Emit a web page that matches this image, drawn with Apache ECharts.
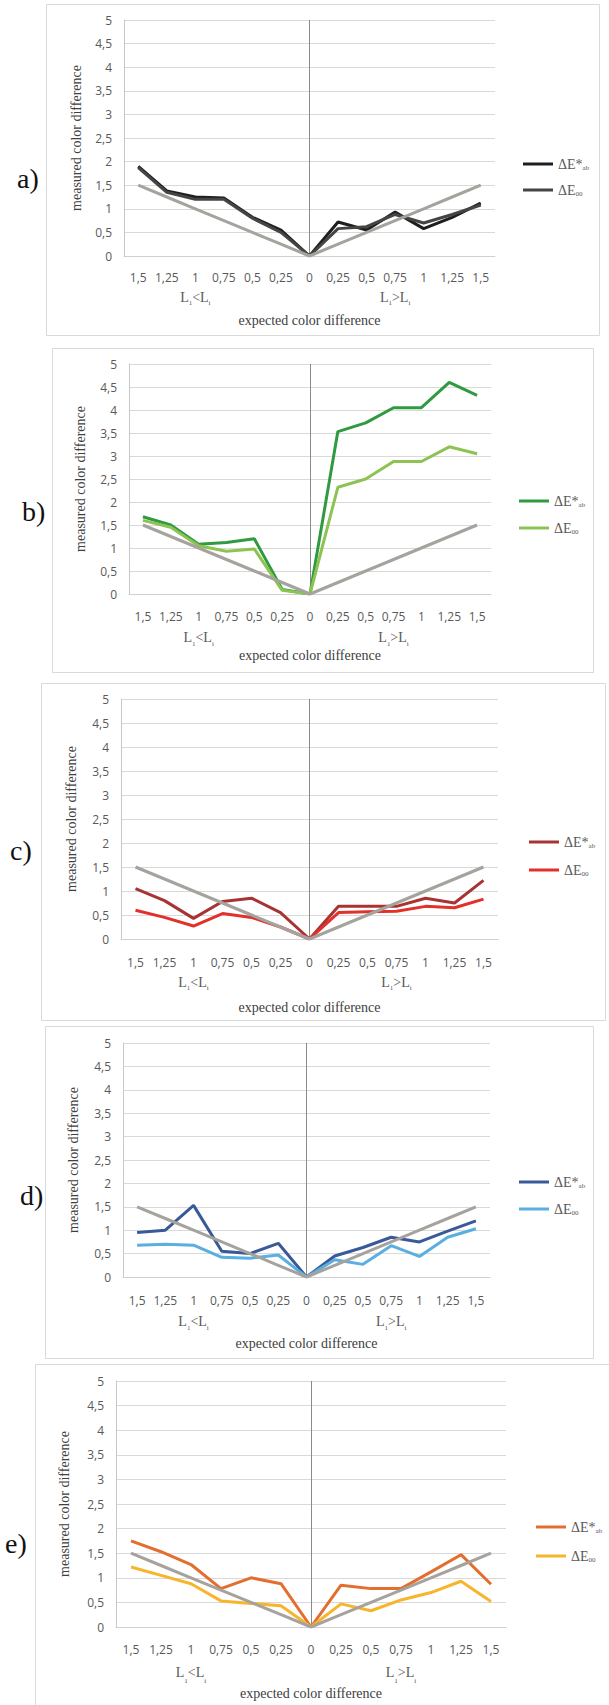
<!DOCTYPE html>
<html>
<head>
<meta charset="utf-8">
<script src="https://cdn.jsdelivr.net/npm/echarts@6/dist/echarts.min.js"></script>
<style>
html,body{margin:0;padding:0;background:#ffffff;}
#chart{width:609px;height:1705px;}
</style>
</head>
<body>
<div id="chart"></div>
<script>
// ---------- data ----------
const categories = ['1,5','1,25','1','0,75','0,5','0,25','0','0,25','0,5','0,75','1','1,25','1,5'];
const expected   = [1.5, 1.25, 1, 0.75, 0.5, 0.25, 0, 0.25, 0.5, 0.75, 1, 1.25, 1.5];
const yMin = 0, yMax = 5, yStep = 0.5;
const panelLabels = ['a)', 'b)', 'c)', 'd)', 'e)'];
const yTitle = 'measured color difference';
const xTitle = 'expected color difference';
const sideLeft  = ['L', '1', '<L', 'i'];   // L1<Li under index 2
const sideRight = ['L', '1', '>L', 'i'];   // L1>Li under index 9
const legendAb = ['ΔE*', 'ab'];
const legend00 = ['ΔE', '00'];

const a_ab = [1.90, 1.38, 1.25, 1.23, 0.82, 0.55, 0, 0.72, 0.55, 0.93, 0.58, 0.82, 1.12];
const a_00 = [1.87, 1.35, 1.20, 1.20, 0.80, 0.50, 0, 0.58, 0.62, 0.88, 0.70, 0.88, 1.08];

const b_ab = [1.68, 1.50, 1.08, 1.12, 1.20, 0.10, 0, 3.53, 3.72, 4.05, 4.05, 4.60, 4.32];
const b_00 = [1.60, 1.45, 1.05, 0.93, 0.98, 0.08, 0, 2.32, 2.50, 2.88, 2.88, 3.20, 3.05];

const c_ab = [1.05, 0.80, 0.43, 0.78, 0.85, 0.55, 0, 0.68, 0.68, 0.68, 0.85, 0.75, 1.22];
const c_00 = [0.60, 0.45, 0.27, 0.53, 0.45, 0.25, 0, 0.55, 0.57, 0.58, 0.68, 0.65, 0.83];

const d_ab = [0.95, 1.00, 1.53, 0.55, 0.50, 0.72, 0, 0.45, 0.63, 0.85, 0.75, 0.98, 1.20];
const d_00 = [0.68, 0.70, 0.68, 0.42, 0.40, 0.47, 0, 0.37, 0.27, 0.67, 0.44, 0.85, 1.03];

const e_ab = [1.75, 1.53, 1.27, 0.78, 1.00, 0.88, 0, 0.85, 0.78, 0.78, 1.12, 1.47, 0.87];
const e_00 = [1.22, 1.05, 0.88, 0.53, 0.48, 0.43, 0, 0.47, 0.33, 0.55, 0.70, 0.93, 0.52];

const seriesAb = [a_ab, b_ab, c_ab, d_ab, e_ab];
const series00 = [a_00, b_00, c_00, d_00, e_00];

// ---------- styles & layout ----------
const colorsAb = ['#1e1e1e', '#2f9a40', '#a83333', '#3a5998', '#e46e2e'];
const colors00 = ['#454545', '#8dc352', '#e2302a', '#5aaee0', '#f7b52c'];
const expectedColor = '#a6a29e';
const layout = [
  {box:[46,4,553,331],    grid:{left:124,top:20,width:371,height:236},   yGap:41, xMargin:10, lLH:18, xGap:57, lg:{left:518,top:152,gap:12}, lab:[17,180]},
  {box:[52,348,541,324],  grid:{left:129,top:364,width:362,height:230},  yGap:42, xMargin:11, lLH:20, xGap:54, lg:{left:514,top:489,gap:13}, lab:[22,513]},
  {box:[41,683,564,337],  grid:{left:121,top:699,width:377,height:240},  yGap:43, xMargin:12, lLH:18, xGap:61, lg:{left:524,top:830,gap:14}, lab:[10,852]},
  {box:[45,1026,548,332], grid:{left:123,top:1043,width:367,height:234}, yGap:43, xMargin:12, lLH:20, xGap:59, lg:{left:514,top:1170,gap:13}, lab:[20,1197]},
  {box:[35,1364,581,348], grid:{left:116,top:1381,width:390,height:246}, yGap:45, xMargin:11, lLH:24, xGap:59, lg:{left:531,top:1515,gap:15}, lab:[5,1545]}
];

const serif = '"Liberation Serif", "DejaVu Serif", serif';
const sans = '"Open Sans", "Noto Sans", sans-serif';
const tickColor = '#595959';

const chart = echarts.init(document.getElementById('chart'), null, {renderer: 'svg'});

const grids = [], xAxes = [], yAxes = [], legends = [], series = [], graphics = [];

layout.forEach(function (L, i) {
  const key = 'p' + i;
  grids.push(Object.assign({containLabel: false}, L.grid));

  const rich = {
    L: {fontFamily: serif, fontSize: 14, color: tickColor, lineHeight: L.lLH},
    s: {fontFamily: serif, fontSize: 7, color: tickColor, lineHeight: 8, verticalAlign: 'bottom'}
  };
  xAxes.push({
    type: 'category', gridIndex: i, data: categories, boundaryGap: true,
    axisTick: {show: false},
    axisLine: {show: true, lineStyle: {color: '#d0d0d0', width: 1}},
    splitLine: {show: false},
    axisLabel: {
      interval: 0, margin: L.xMargin, color: tickColor, fontFamily: sans, fontSize: 12, lineHeight: 22,
      rich: rich,
      formatter: function (v, idx) {
        if (idx === 2) return v + '\n{L|' + sideLeft[0] + '}{s|' + sideLeft[1] + '}{L|' + sideLeft[2] + '}{s|' + sideLeft[3] + '}';
        if (idx === 9) return v + '\n{L|' + sideRight[0] + '}{s|' + sideRight[1] + '}{L|' + sideRight[2] + '}{s|' + sideRight[3] + '}';
        return v;
      }
    },
    name: xTitle, nameLocation: 'middle', nameGap: L.xGap,
    nameTextStyle: {fontFamily: serif, fontSize: 14, color: '#404040'}
  });
  yAxes.push({
    type: 'value', gridIndex: i, min: yMin, max: yMax, interval: yStep,
    axisLine: {show: true, lineStyle: {color: '#c8c8c8', width: 1}},
    axisTick: {show: false},
    splitLine: {show: true, lineStyle: {color: '#d9d9d9', width: 1}},
    axisLabel: {
      margin: 12, color: tickColor, fontFamily: sans, fontSize: 12,
      formatter: function (v) { return String(v).replace('.', ','); }
    },
    name: yTitle, nameLocation: 'middle', nameGap: L.yGap,
    nameTextStyle: {fontFamily: serif, fontSize: 14, color: '#404040'}
  });
  legends.push({
    show: true, orient: 'vertical', left: L.lg.left, top: L.lg.top,
    itemWidth: 30, itemHeight: 14, itemGap: L.lg.gap,
    data: [key + '|ab', key + '|00'],
    selectedMode: false,
    icon: 'path://M0,0 L30,0 L30,3 L0,3 Z',
    textStyle: {
      fontFamily: serif, fontSize: 14, color: tickColor, padding: [0,0,0,0],
      rich: {
        t: {fontFamily: serif, fontSize: 14, color: tickColor, lineHeight: 14},
        s: {fontFamily: serif, fontSize: 7, color: tickColor, lineHeight: 6, verticalAlign: 'bottom'}
      }
    },
    formatter: function (name) {
      const pair = name.endsWith('|ab') ? legendAb : legend00;
      return '{t|' + pair[0] + '}{s|' + pair[1] + '}';
    }
  });

  series.push({
    name: key + '|ab', type: 'line', xAxisIndex: i, yAxisIndex: i,
    data: seriesAb[i], symbol: 'none', z: 3, silent: true,
    lineStyle: {width: 3, color: colorsAb[i]}, itemStyle: {color: colorsAb[i]},
    markLine: {
      silent: true, symbol: 'none', z: 1, animation: false,
      label: {show: false},
      lineStyle: {color: '#8a8a8a', width: 1, type: 'solid'},
      data: [{xAxis: 6}]
    }
  });
  series.push({
    name: key + '|00', type: 'line', xAxisIndex: i, yAxisIndex: i,
    data: series00[i], symbol: 'none', z: 3, silent: true,
    lineStyle: {width: 3, color: colors00[i]}, itemStyle: {color: colors00[i]}
  });
  series.push({
    name: key + '|exp', type: 'line', xAxisIndex: i, yAxisIndex: i,
    data: expected, symbol: 'none', z: 4, silent: true,
    lineStyle: {width: 3, color: expectedColor}, itemStyle: {color: expectedColor}
  });

  graphics.push({
    type: 'rect', silent: true, z: -10,
    shape: {x: L.box[0] + 0.5, y: L.box[1] + 0.5, width: L.box[2], height: L.box[3]},
    style: {fill: 'none', stroke: '#d9d9d9', lineWidth: 1}
  });
  graphics.push({
    type: 'text', silent: true, left: L.lab[0], top: L.lab[1] - 16,
    style: {text: panelLabels[i], fontFamily: serif, fontSize: 28, fill: '#111111'}
  });
});

chart.setOption({
  animation: false,
  backgroundColor: '#ffffff',
  grid: grids,
  xAxis: xAxes,
  yAxis: yAxes,
  legend: legends,
  series: series,
  graphic: graphics
});
</script>
</body>
</html>
